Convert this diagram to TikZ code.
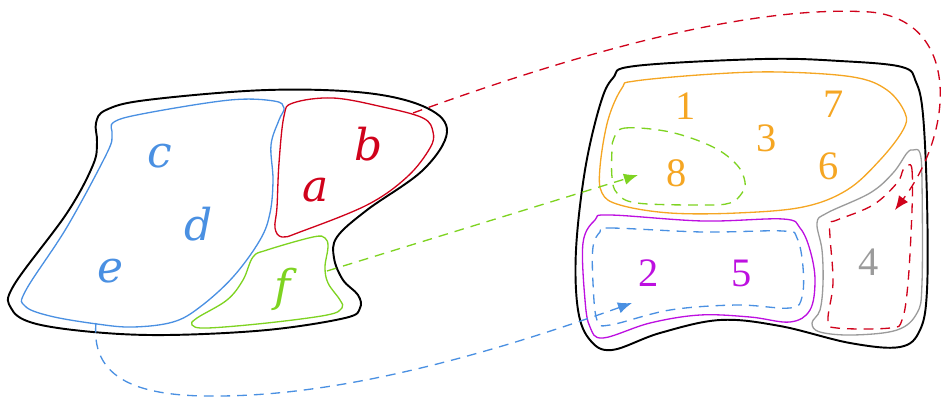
\documentclass[tikz,border=0pt]{standalone}
\usepackage{fontspec}
\setmainfont{Liberation Serif}
\newfontfamily\letterfont{DejaVu Serif}
\usetikzlibrary{arrows.meta}
\definecolor{cred}{HTML}{D0021B}
\definecolor{cblue}{HTML}{4A90E2}
\definecolor{cgreen}{HTML}{7ED321}
\definecolor{corange}{HTML}{F5A623}
\definecolor{cpurple}{HTML}{BD10E0}
\definecolor{cgrey}{HTML}{9B9B9B}
\tikzset{
  outerline/.style={draw=black, line width=1.1pt},
  regionline/.style={line width=0.75pt},
  dashline/.style={line width=0.75pt, dash pattern=on 5.5pt off 4pt},
  conn/.style={dashline, -{Latex[length=8pt,width=6.5pt]}},
  lettr/.style={font=\letterfont\itshape\fontsize{25}{28}\selectfont, inner sep=0pt},
  digit/.style={font=\fontsize{23}{26}\selectfont, inner sep=0pt},
}
\begin{document}
\begin{tikzpicture}[x=0.02cm,y=-0.02cm]
\useasboundingbox (0,0) rectangle (946,400);
% ---------- left set ----------
\draw[outerline] plot[smooth cycle, tension=0.6] coordinates {
 (97,142) (96,123) (106,110) (147,100) (267,90) (367,93) (427,108) (447,132)
 (423,170) (367,210) (337,237) (334,258) (343,280) (358,295) (360,308) (345,318)
 (267,330) (167,335) (93,332) (33,323) (11,308) (14,285) (67,213) (93,165)};
\draw[regionline, cblue] plot[smooth cycle, tension=0.6] coordinates {
 (112,135) (114,122) (147,113) (230,100) (274,101) (284,108) (279,120)
 (271,145) (273,180) (270,213) (260,240) (233,277) (200,307) (173,322) (133,327)
 (97,324) (50,316) (25,306) (26,290) (67,227) (107,153)};
\draw[regionline, cred] plot[smooth cycle, tension=0.6] coordinates {
 (284,116) (293,103) (333,98) (383,107) (423,118) (433,132)
 (430,148) (407,177) (367,205) (300,232) (282,237) (275,228) (277,207) (279,163)};
\draw[regionline, cgreen] plot[smooth cycle, tension=0.6] coordinates {
 (253,257) (267,250) (313,237) (325,238) (328,247) (325,267) (328,283) (340,300)
 (342,308) (327,315) (267,323) (207,328) (192,325) (197,318) (227,300) (243,280)};
\node[lettr, cblue] (c) at (160,156) {c};
\node[lettr, cblue] (d) at (199,224) {d};
\node[lettr, cblue] (e) at (110,271) {e};
\node[lettr, cred] (a) at (316,190) {a};
\node[lettr, cred] (b) at (369,144) {b};
\node[lettr, cgreen] (f) at (283,289) {f};
% ---------- right set ----------
\draw[outerline] plot[smooth cycle, tension=0.6] coordinates {
 (613,78) (635,66) (763,59) (840,61) (902,67) (916,82) (923,115) (927,200) (927,290)
 (920,330) (900,347) (850,343) (780,326) (720,320) (660,333) (612,350)
 (590,340) (578,310) (576,250) (585,170) (600,105)};
\draw[regionline, corange] plot[smooth cycle, tension=0.6] coordinates {
 (622,88) (635,81) (713,74) (780,72) (853,77) (887,90) (905,113) (903,130) (880,160)
 (847,190) (803,207) (737,213) (670,213) (620,205) (602,193) (600,167) (608,120)};
\draw[dashline, cgreen] plot[smooth cycle, tension=0.6] coordinates {
 (614,138) (625,128) (670,132) (713,147) (737,165) (745,182) (742,193) (730,203)
 (703,205) (637,203) (617,193) (612,177) (612,150)};
\draw[regionline, cpurple] plot[smooth cycle, tension=0.6] coordinates {
 (595,220) (610,215) (703,221) (783,219) (800,228) (810,250) (815,280) (810,310)
 (790,322) (750,317) (700,315) (650,323) (603,338) (590,327) (585,300) (583,243)};
\draw[dashline, cblue] plot[smooth cycle, tension=0.6] coordinates {
 (600,232) (610,228) (703,232) (783,231) (797,238) (803,267) (802,297) (790,308)
 (737,305) (670,310) (610,325) (597,320) (593,283) (593,247)};
\draw[regionline, cgrey] plot[smooth cycle, tension=0.6] coordinates {
 (913,150) (920,153) (922,183) (922,283) (917,313) (897,330) (853,335) (820,332)
 (812,323) (820,310) (823,283) (822,250) (817,223) (827,213) (870,193) (893,173) (907,153)};
\draw[dashline, cred] plot[smooth cycle, tension=0.6] coordinates {
 (908,165) (912,170) (912,210) (908,283) (902,320) (890,328) (837,328) (828,320)
 (833,283) (830,237) (830,223) (837,220) (873,205) (897,183) (903,170)};
\node[digit, corange] (n1) at (686,106) {1};
\node[digit, corange] (n7) at (834,104) {7};
\node[digit, corange] (n3) at (767,138) {3};
\node[digit, corange] (n8) at (677,173) {8};
\node[digit, corange] (n6) at (829,166) {6};
\node[digit, cpurple] (n2) at (649,273) {2};
\node[digit, cpurple] (n5) at (742,273) {5};
\node[digit, cgrey] (n4) at (869,262) {4};
% ---------- connectors ----------
\coordinate (rs) at (413,113);
\coordinate (rm) at (870,12);
\coordinate (re) at (895,210);
\coordinate (gs) at (327,271);
\coordinate (ge) at (638,175);
\coordinate (bs) at (96,323);
\coordinate (bm) at (220,396);
\coordinate (be) at (632,303);
\draw[conn, cred] (rs) .. controls (600,45) and (760,5) .. (rm)
  .. controls (960,20) and (955,130) .. (re);
\draw[conn, cgreen] (gs) -- (ge);
\draw[conn, cblue] (bs) .. controls (90,385) and (150,397) .. (bm)
  .. controls (350,395) and (500,350) .. (be);
\end{tikzpicture}
\end{document}
